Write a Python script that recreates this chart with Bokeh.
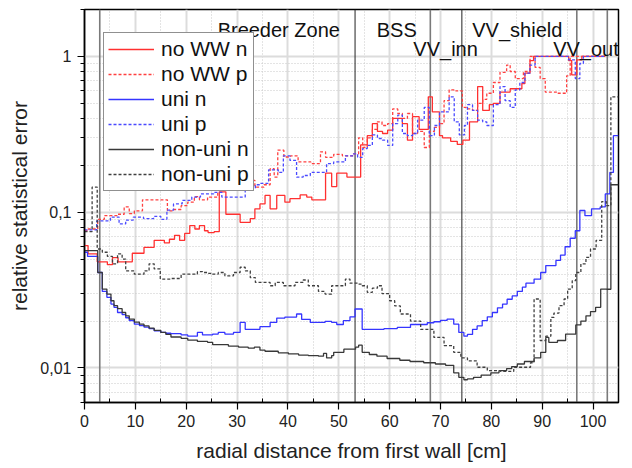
from bokeh.plotting import figure
from bokeh.models import FixedTicker, Span, Label, CustomJSTickFormatter
from bokeh.embed import file_html
from bokeh.resources import INLINE

# ---------------- data (bin left edges + final edge, bin values) ----------------
nown_x = [0, 0.7, 2.5, 4.5, 5.5, 6.6, 9.4, 11.7, 13.7, 15.7, 16.7, 17.7, 18.7, 19.7, 20.7, 21.7, 22.6, 23.6, 24.3, 25.5,
          26.5, 27.8, 30.6, 32.6, 33.5, 34.5, 35.5, 36.5, 37.8, 39.4, 40.4, 42.4, 43.7, 44.7, 47.4, 48.6, 49.6, 51.6, 54.3, 55.6,
          56.6, 57.6, 58.6, 59.6, 60.6, 62.5, 63.5, 64.5, 65.8, 67.6, 68.4, 69.8, 70.4, 72.0, 73.3, 74.4, 75.7, 77.3, 78.3, 79.6,
          80.4, 81.7, 83.7, 86.0, 86.6, 87.6, 88.3, 95.2, 95.8, 96.8, 97.8, 102.4]
nown_y = [0.061, 0.054, 0.048, 0.046, 0.051, 0.048, 0.0545, 0.0595, 0.066, 0.0635, 0.067, 0.071, 0.066, 0.073, 0.082, 0.078, 0.082, 0.076, 0.074, 0.075,
          0.135, 0.097, 0.086, 0.091, 0.105, 0.113, 0.128, 0.105, 0.128, 0.116, 0.122, 0.129, 0.125, 0.120, 0.178, 0.146, 0.178, 0.168, 0.27, 0.31,
          0.37, 0.33, 0.32, 0.336, 0.40, 0.37, 0.29, 0.41, 0.34, 0.55, 0.44, 0.31, 0.30, 0.285, 0.272, 0.29, 0.38, 0.64, 0.45, 0.49,
          0.50, 0.59, 0.62, 0.67, 0.78, 0.94, 1.0, 0.94, 0.76, 0.95, 1.0]

nowp_x = [0, 0.6, 2.6, 3.9, 6.5, 7.8, 8.8, 9.8, 11.4, 16.3, 17.3, 19.0, 20.3, 21.6, 22.6, 24.2, 26.2, 27.5, 29.0, 31.0,
          32.5, 33.5, 35.3, 36.5, 37.3, 38.0, 39.2, 40.5, 42.0, 44.5, 46.4, 47.4, 49.0, 50.7, 52.9, 53.9, 54.7, 55.6, 56.6, 57.6,
          58.5, 59.6, 60.6, 61.6, 62.5, 63.5, 64.5, 65.5, 66.8, 67.8, 68.8, 69.8, 70.7, 71.7, 73.0, 74.3, 75.3, 76.3, 77.3, 78.3,
          79.1, 80.4, 81.7, 83.0, 83.7, 84.7, 86.3, 87.6, 88.6, 89.6, 90.6, 92.9, 94.8, 95.5, 102.4]
nowp_y = [0.076, 0.078, 0.09, 0.095, 0.097, 0.108, 0.098, 0.102, 0.12, 0.102, 0.104, 0.11, 0.116, 0.126, 0.12, 0.125, 0.14, 0.165, 0.185, 0.185,
          0.16, 0.145, 0.15, 0.19, 0.168, 0.25, 0.226, 0.23, 0.21, 0.205, 0.244, 0.225, 0.235, 0.23, 0.237, 0.30, 0.26, 0.30, 0.34, 0.38,
          0.36, 0.37, 0.46, 0.43, 0.40, 0.43, 0.32, 0.33, 0.26, 0.33, 0.35, 0.37, 0.52, 0.61, 0.60, 0.47, 0.46, 0.45, 0.50, 0.53,
          0.58, 0.68, 0.79, 0.88, 0.80, 0.72, 0.80, 1.0, 0.85, 0.72, 0.59, 0.58, 0.75, 1.0]

unin_x = [0, 0.6, 2.6, 3.5, 4.4, 5.2, 5.8, 6.5, 7.4, 8.1, 8.8, 9.8, 10.8, 11.7, 12.7, 13.7, 15.0, 16.0, 17.0, 19.0,
          20.3, 22.2, 23.2, 24.2, 25.2, 26.3, 27.6, 29.3, 30.6, 31.6, 34.5, 36.5, 37.8, 39.4, 41.7, 42.7, 44.4, 47.3, 48.6, 49.6,
          50.9, 52.2, 53.2, 54.6, 58.9, 61.5, 64.1, 67.4, 68.7, 70.0, 71.3, 72.6, 73.6, 74.6, 75.3, 76.3, 77.2, 78.2, 79.2, 80.2,
          81.2, 82.2, 83.1, 84.1, 85.1, 86.1, 86.8, 88.4, 89.7, 90.7, 92.7, 93.6, 94.5, 95.5, 96.5, 97.4, 98.4, 99.7, 101.4, 102.4,
          103.3, 104.0, 105.0]
unin_y = [0.0553, 0.052, 0.041, 0.031, 0.0284, 0.0257, 0.0245, 0.0227, 0.022, 0.021, 0.0201, 0.0191, 0.0187, 0.0183, 0.0179, 0.0173, 0.0169, 0.0167, 0.0166, 0.0163,
          0.016, 0.0169, 0.0163, 0.0163, 0.0165, 0.0169, 0.0165, 0.0169, 0.0196, 0.0177, 0.0184, 0.0196, 0.0209, 0.0212, 0.0222, 0.0205, 0.0196, 0.0199, 0.0196, 0.019,
          0.0201, 0.0213, 0.0239, 0.0177, 0.0179, 0.0182, 0.019, 0.0195, 0.0198, 0.0202, 0.0206, 0.0191, 0.0169, 0.016, 0.0164, 0.0177, 0.0186, 0.0201, 0.0213, 0.0227,
          0.0243, 0.0257, 0.0276, 0.029, 0.031, 0.033, 0.035, 0.0372, 0.041, 0.0454, 0.049, 0.053, 0.060, 0.068, 0.076, 0.1025, 0.095, 0.105, 0.108, 0.131,
          0.18, 0.31]

unip_x = [0, 2.4, 5.1, 6.8, 8.1, 9.6, 11.6, 13.6, 15.0, 16.2, 17.5, 19.2, 21.1, 22.8, 25.4, 27.0, 31.6, 32.6, 33.6, 34.5,
          36.2, 38.1, 39.1, 40.4, 41.7, 43.0, 44.4, 47.6, 49.0, 51.3, 52.9, 53.7, 54.7, 55.6, 56.6, 57.6, 58.6, 59.6, 60.6, 61.6,
          62.5, 63.5, 64.5, 65.5, 66.8, 67.8, 68.8, 69.8, 71.7, 72.7, 73.7, 74.7, 75.3, 76.3, 77.3, 78.3, 79.1, 80.4, 81.7, 82.7,
          83.7, 84.7, 85.6, 86.6, 87.6, 88.6, 95.2, 96.5, 97.4, 98.1, 102.4]
unip_y = [0.077, 0.088, 0.093, 0.084, 0.089, 0.093, 0.091, 0.094, 0.09, 0.103, 0.113, 0.119, 0.125, 0.131, 0.134, 0.125, 0.205, 0.141, 0.15, 0.153,
          0.187, 0.18, 0.23, 0.215, 0.168, 0.172, 0.18, 0.205, 0.21, 0.23, 0.237, 0.225, 0.256, 0.268, 0.313, 0.297, 0.29, 0.268, 0.37, 0.42,
          0.32, 0.31, 0.32, 0.39, 0.47, 0.31, 0.36, 0.44, 0.55, 0.38, 0.313, 0.36, 0.49, 0.45, 0.39, 0.38, 0.36, 0.49, 0.64, 0.52,
          0.47, 0.61, 0.68, 0.78, 0.88, 1.0, 0.95, 0.72, 0.9, 1.0]

nonun_x = [0, 2.6, 3.5, 4.4, 5.2, 5.8, 6.5, 7.4, 8.1, 8.8, 9.8, 10.8, 11.7, 12.7, 13.7, 15.0, 16.0, 17.0, 19.0, 20.3,
           22.2, 24.2, 25.2, 28.3, 30.3, 32.2, 33.4, 34.5, 35.5, 38.1, 40.1, 42.1, 44.0, 46.0, 47.0, 47.6, 48.6, 49.0, 51.0, 53.3,
           53.9, 54.6, 56.0, 57.5, 59.5, 62.0, 64.0, 66.7, 69.0, 71.0, 72.6, 73.6, 74.6, 75.3, 76.5, 78.0, 79.9, 81.5, 83.0, 84.0,
           85.1, 86.5, 88.4, 89.7, 90.7, 91.3, 93.0, 94.6, 96.6, 97.6, 98.6, 99.5, 100.5, 101.5, 102.7, 103.5, 105.0]
nonun_y = [0.0567, 0.041, 0.0321, 0.0298, 0.027, 0.0251, 0.024, 0.0227, 0.0216, 0.0206, 0.0197, 0.0191, 0.0186, 0.018, 0.0174, 0.0169, 0.0164, 0.0158, 0.0155, 0.0151,
           0.0148, 0.0146, 0.0141, 0.0138, 0.0136, 0.0134, 0.0136, 0.013, 0.0128, 0.0125, 0.0123, 0.0121, 0.012, 0.0119, 0.0124, 0.0116, 0.012, 0.0126, 0.0132, 0.0136,
           0.014, 0.0126, 0.0122, 0.0119, 0.0115, 0.0112, 0.011, 0.0108, 0.0106, 0.0104, 0.0093, 0.0087, 0.0084, 0.0085, 0.0087, 0.009, 0.0093, 0.0096, 0.0099, 0.0102,
           0.0106, 0.011, 0.0116, 0.0126, 0.0157, 0.0146, 0.015, 0.0165, 0.0189, 0.02, 0.0216, 0.023, 0.0245, 0.0321, 0.032, 0.15]

nonup_x = [0, 1.5, 2.5, 3.5, 4.5, 5.5, 6.5, 7.4, 8.1, 9.8, 11.7, 12.7, 13.7, 14.9, 17.0, 19.0, 22.2, 23.2, 24.2, 25.2,
           26.3, 27.6, 29.3, 30.6, 31.6, 32.6, 33.6, 36.5, 37.5, 39.1, 41.4, 43.0, 44.0, 46.0, 47.3, 48.6, 51.3, 52.2, 53.7, 54.6,
           55.6, 56.6, 57.6, 58.5, 60.0, 61.0, 62.1, 64.1, 66.1, 68.7, 70.7, 72.6, 74.0, 75.3, 77.2, 79.2, 81.8, 84.4, 87.7, 88.4,
           89.6, 90.7, 91.7, 92.3, 93.3, 94.3, 95.0, 95.9, 96.6, 97.6, 98.6, 99.5, 100.6, 101.7, 102.6, 103.5, 105.0]
nonup_y = [0.075, 0.145, 0.058, 0.0553, 0.052, 0.0466, 0.054, 0.05, 0.042, 0.040, 0.042, 0.0466, 0.0432, 0.0372, 0.0375, 0.040, 0.0415, 0.041, 0.0405, 0.04,
           0.041, 0.039, 0.041, 0.0443, 0.042, 0.038, 0.0354, 0.0337, 0.0354, 0.0337, 0.0354, 0.0367, 0.0337, 0.031, 0.0298, 0.0337, 0.0372, 0.035, 0.0345, 0.0337,
           0.0306, 0.0325, 0.0337, 0.030, 0.027, 0.025, 0.0222, 0.02, 0.0177, 0.0157, 0.0139, 0.0126, 0.0116, 0.0111, 0.0101, 0.0096, 0.0095, 0.0101, 0.0108, 0.0277,
           0.015, 0.016, 0.0211, 0.0225, 0.0251, 0.0277, 0.0321, 0.0363, 0.041, 0.0466, 0.0513, 0.058, 0.066, 0.117, 0.11, 0.55]

# zone boundaries [cm] and zone names
boundaries = [3.0, 53.2, 68.0, 74.2, 96.8, 102.8]
boundary_dark = [False, True, False, True, False, False]
zone_names = ["Breeder Zone", "BSS", "VV_inn", "VV_shield", "VV_out"]
zone_label_x = [38.2, 61.4, 71.0, 85.1, 98.6]
zone_label_y = [1.47, 1.47, 1.12, 1.47, 1.12]

x_major = list(range(0, 101, 10))
x_minor = [v + 5 for v in range(0, 101, 10)]
y_major = [0.01, 0.1, 1.0]
y_minor = [0.006, 0.007, 0.008, 0.009] + [k * 0.01 for k in range(2, 10)] + [k * 0.1 for k in range(2, 10)] + [2.0]

FONT = "Liberation Sans"

p = figure(width=632, height=468, x_range=(0, 105), y_range=(0.006, 2.0), y_axis_type="log",
           output_backend="svg", toolbar_location=None,
           min_border_left=84, min_border_right=14, min_border_top=9, min_border_bottom=66)
p.background_fill_color = "white"
p.border_fill_color = "white"
p.outline_line_color = "black"
p.outline_line_width = 1.5

xt = FixedTicker(ticks=x_major, minor_ticks=x_minor)
yt = FixedTicker(ticks=y_major, minor_ticks=y_minor)
yfmt = CustomJSTickFormatter(code="""
const e = Math.round(Math.log10(tick));
if (e >= 0) { return String(Math.round(Math.pow(10, e))); }
return "0," + "0".repeat(-e - 1) + "1";
""")

p.xaxis.ticker = xt
p.yaxis.ticker = yt
p.yaxis.formatter = yfmt

for ax in (p.xaxis[0], p.yaxis[0]):
    ax.axis_line_color = "black"
    ax.axis_line_width = 1.5
    ax.major_tick_line_color = "black"
    ax.minor_tick_line_color = "black"
    ax.major_tick_line_width = 1.2
    ax.major_tick_out = 7
    ax.major_tick_in = 0
    ax.major_label_text_font = FONT
    ax.major_label_text_font_size = "16px"
    ax.major_label_text_color = "#222222"
    ax.axis_label_text_font = FONT
    ax.axis_label_text_font_size = "21px"
    ax.axis_label_text_font_style = "normal"
    ax.axis_label_text_color = "#222222"

p.xaxis.axis_label = "radial distance from first wall [cm]"
p.yaxis.axis_label = "relative statistical error"
p.xaxis.minor_tick_in = 4
p.xaxis.minor_tick_out = 0
p.yaxis.minor_tick_in = 0
p.yaxis.minor_tick_out = 4
p.xaxis.major_label_standoff = 5
p.yaxis.major_label_standoff = 6
p.xaxis.axis_label_standoff = 9
p.yaxis.axis_label_standoff = 6

for g in (p.xgrid[0], p.ygrid[0]):
    g.grid_line_color = "#dcdcdc"
    g.grid_line_width = 2
    g.minor_grid_line_color = "#c8c8c8"
    g.minor_grid_line_width = 1
    g.minor_grid_line_dash = "1 2"
p.xgrid.ticker = xt
p.ygrid.ticker = yt

for bx, dark in zip(boundaries, boundary_dark):
    p.add_layout(Span(location=bx, dimension="height", line_color="#222222" if dark else "#7a7a7a",
                      line_width=1.0 if dark else 1.6, level="underlay"))


def step_series(xs, ys):
    n = min(len(xs) - 1, len(ys))
    return list(xs[:n + 1]), list(ys[:n]) + [ys[n - 1]]


series = [
    ("no WW n", nown_x, nown_y, "#ff3030", "solid"),
    ("no WW p", nowp_x, nowp_y, "#ff4040", "3 2"),
    ("uni n", unin_x, unin_y, "#3535ff", "solid"),
    ("uni p", unip_x, unip_y, "#4a4aff", "3 2"),
    ("non-uni n", nonun_x, nonun_y, "#383838", "solid"),
    ("non-uni p", nonup_x, nonup_y, "#404040", "3 2"),
]
for name, xs, ys, col, dash in series:
    sx, sy = step_series(xs, ys)
    p.step(sx, sy, mode="after", line_color=col, line_width=1.3, line_dash=dash, legend_label=name)

for name, lx, ly in zip(zone_names, zone_label_x, zone_label_y):
    p.add_layout(Label(x=lx, y=ly, text=name, text_align="center", text_baseline="alphabetic",
                       text_font=FONT, text_font_size="20px", text_color="#111111"))

lg = p.legend[0]
lg.location = (19, 211)
lg.label_text_font = FONT
lg.label_text_font_size = "21px"
lg.label_text_color = "#111111"
lg.glyph_width = 46
lg.glyph_height = 20
lg.label_height = 20
lg.label_standoff = 7
lg.spacing = 1
lg.padding = 4
lg.margin = 0
lg.border_line_color = "#222222"
lg.border_line_width = 1
lg.background_fill_alpha = 1.0

open("out.html", "w").write(file_html(p, INLINE))
